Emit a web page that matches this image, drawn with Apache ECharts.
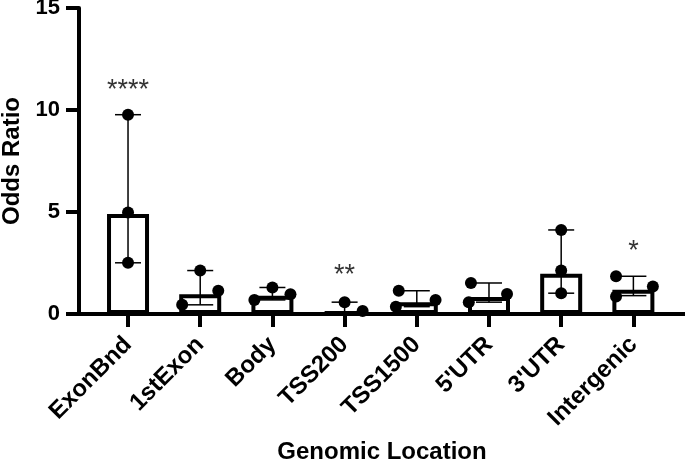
<!DOCTYPE html>
<html>
<head>
<meta charset="utf-8">
<script src="https://cdn.jsdelivr.net/npm/echarts@6/dist/echarts.min.js"></script>
<style>
  html, body { margin: 0; padding: 0; background: #fff; }
  #chart { width: 685px; height: 465px; }
</style>
</head>
<body>
<div id="chart"></div>
<script>
// 基因组位置
const categories = ['ExonBnd', '1stExon', 'Body', 'TSS200', 'TSS1500', "5'UTR", "3'UTR", 'Intergenic']
// 柱高（图中读取）
const barValues = [4.9, 0.97, 0.9, 0.1, 0.58, 0.83, 1.97, 1.19]
// 每组三个点
const pointValues = [
  [9.77, 4.98, 2.51],
  [2.13, 1.14, 0.45],
  [1.3, 0.97, 0.69],
  [0.58, 0.15, -0.05],
  [1.14, 0.69, 0.36],
  [1.52, 0.98, 0.58],
  [4.12, 2.13, 1.02],
  [1.85, 1.35, 0.86]
]
// 点的水平偏移（类目单位）
const pointJitter = [
  [0, 0, 0],
  [0, 0.25, -0.25],
  [0, 0.25, -0.25],
  [0, 0.25, -0.25],
  [-0.25, 0.26, -0.29],
  [-0.25, 0.25, -0.28],
  [0, 0, 0],
  [-0.24, 0.27, -0.24]
]
// 误差线 [下, 上]
const errLow = [2.51, 0.45, 0.69, 0.0, 0.36, 0.58, 1.02, 0.9]
const errHigh = [9.77, 2.13, 1.3, 0.58, 1.14, 1.52, 4.12, 1.85]
// 显著性标记
const sigLabels = ['****', '', '', '**', '', '', '', '*']
const sigY = [10.94, 0, 0, 1.88, 0, 0, 0, 3.07]
const yTicks = [0, 5, 10, 15]

const fontFamily = '"Liberation Sans", Arial, sans-serif'

const barData = barValues.map((v, i) => [i, v])
const pointData = []
pointValues.forEach((vals, i) => {
  vals.forEach((v, j) => pointData.push([i + pointJitter[i][j], v]))
})
const errData = errLow.map((lo, i) => [i, lo, errHigh[i]])
const sigData = []
sigLabels.forEach((t, i) => {
  if (t) sigData.push({ value: [i, sigY[i]], name: t })
})

const chart = echarts.init(document.getElementById('chart'))

chart.setOption({
  animation: false,
  backgroundColor: '#fff',
  grid: { left: 79, right: 0, top: 8, bottom: 151, containLabel: false, outerBoundsMode: 'none' },
  xAxis: {
    type: 'value',
    min: -0.679,
    max: 7.715,
    splitLine: { show: false },
    name: 'Genomic Location',
    nameLocation: 'middle',
    nameGap: 126,
    nameTextStyle: { fontFamily, fontSize: 24, fontWeight: 'bold', color: '#000' },
    axisLine: { onZero: false, lineStyle: { color: '#000', width: 4 } },
    axisTick: { show: true, customValues: [0, 1, 2, 3, 4, 5, 6, 7], length: 13, lineStyle: { color: '#000', width: 4 } },
    axisLabel: {
      customValues: [0, 1, 2, 3, 4, 5, 6, 7],
      rotate: 45,
      margin: 27,
      fontFamily,
      fontSize: 24,
      fontWeight: 'bold',
      color: '#000',
      formatter: v => categories[Math.round(v)]
    }
  },
  yAxis: {
    type: 'value',
    min: 0,
    max: 15,
    interval: 5,
    splitLine: { show: false },
    name: 'Odds Ratio',
    nameLocation: 'middle',
    nameGap: 50,
    nameTextStyle: { fontFamily, fontSize: 24, fontWeight: 'bold', color: '#000' },
    axisLine: { show: true, onZero: false, lineStyle: { color: '#000', width: 4 } },
    axisTick: { show: true, length: 13, lineStyle: { color: '#000', width: 4 } },
    axisLabel: {
      margin: 19,
      fontFamily,
      fontSize: 22,
      fontWeight: 'bold',
      color: '#000',
      formatter: v => (yTicks.includes(v) ? String(v) : '')
    }
  },
  series: [
    {
      type: 'bar',
      data: barData,
      barWidth: 42,
      itemStyle: { color: '#fff', borderColor: '#000', borderWidth: 4 },
      z: 2
    },
    {
      type: 'custom',
      data: errData,
      z: 3,
      renderItem: (params, api) => {
        const x = api.value(0)
        const lo = api.coord([x, api.value(1)])
        const hi = api.coord([x, api.value(2)])
        const half = 13
        const style = { stroke: '#000', lineWidth: 1.5 }
        return {
          type: 'group',
          children: [
            { type: 'line', shape: { x1: lo[0], y1: lo[1], x2: hi[0], y2: hi[1] }, style },
            { type: 'line', shape: { x1: lo[0] - half, y1: lo[1], x2: lo[0] + half, y2: lo[1] }, style },
            { type: 'line', shape: { x1: hi[0] - half, y1: hi[1], x2: hi[0] + half, y2: hi[1] }, style }
          ]
        }
      }
    },
    {
      type: 'scatter',
      data: pointData,
      symbol: 'circle',
      symbolSize: 12,
      itemStyle: { color: '#000', opacity: 1 },
      z: 4
    },
    {
      type: 'scatter',
      data: sigData,
      symbolSize: 0,
      z: 5,
      label: {
        show: true,
        position: 'inside',
        formatter: p => p.name,
        fontFamily,
        fontSize: 27,
        color: '#000'
      }
    }
  ]
})
</script>
</body>
</html>
